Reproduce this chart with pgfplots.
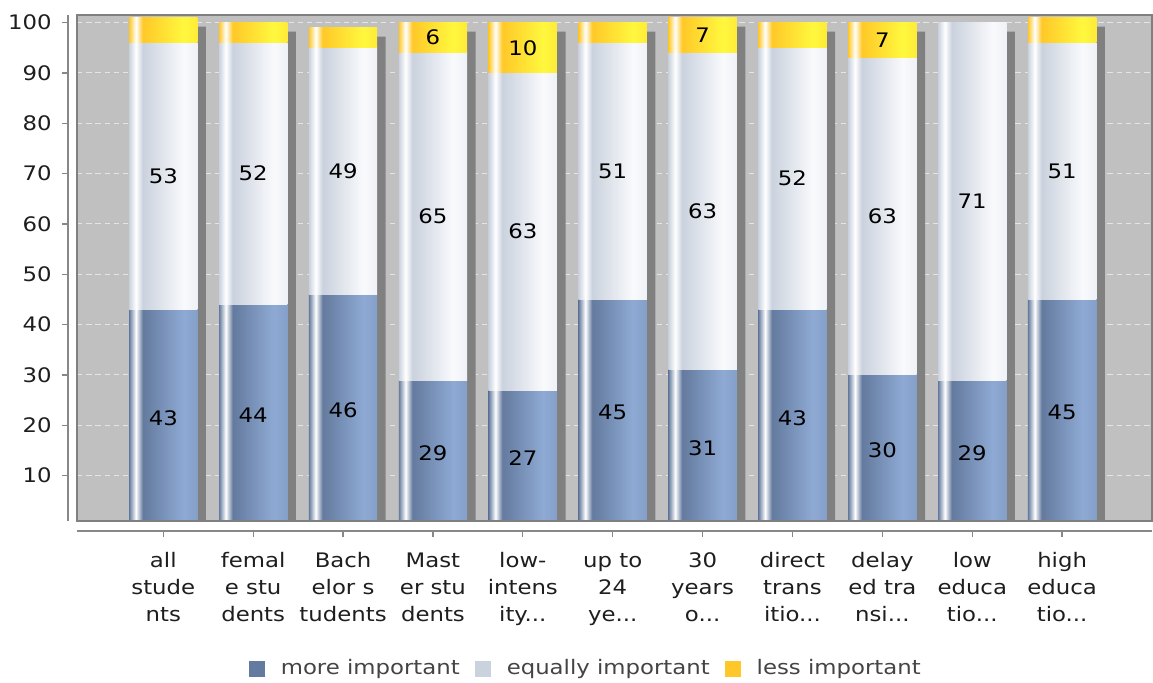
\documentclass[border=0pt]{standalone}
\usepackage{pgfplots}
\pgfplotsset{compat=1.18}
\usepackage{pgfplotstable}
\usepackage{fontspec}
\setmainfont{DejaVu Sans}[FakeStretch=1.14]

\definecolor{bgc}{RGB}{192,192,192}
\definecolor{shadowc}{RGB}{128,128,128}
\definecolor{bordc}{RGB}{128,128,128}
\definecolor{axc}{RGB}{136,136,136}
\definecolor{gridc}{RGB}{228,228,228}
\definecolor{bA}{RGB}{100,122,158}
\definecolor{bB}{RGB}{142,170,212}
\definecolor{bC}{RGB}{132,159,200}
\definecolor{eA}{RGB}{202,210,222}
\definecolor{eB}{RGB}{249,250,252}
\definecolor{eC}{RGB}{238,241,246}
\definecolor{lA}{RGB}{255,200,40}
\definecolor{lB}{RGB}{255,248,62}
\definecolor{lC}{RGB}{255,234,56}
\definecolor{txt}{RGB}{30,30,30}
\definecolor{legtxt}{RGB}{68,68,68}

\pgfdeclarehorizontalshading{moreshade}{100bp}{color(0bp)=(bA); color(25bp)=(bA); color(30bp)=(white); color(35bp)=(bA); color(65bp)=(bB); color(75bp)=(bC); color(100bp)=(bC)}
\pgfdeclarehorizontalshading{equalshade}{100bp}{color(0bp)=(eA); color(25bp)=(eA); color(30bp)=(white); color(35bp)=(eA); color(65bp)=(eB); color(75bp)=(eC); color(100bp)=(eC)}
\pgfdeclarehorizontalshading{lessshade}{100bp}{color(0bp)=(lA); color(25bp)=(lA); color(30bp)=(white); color(35bp)=(lA); color(65bp)=(lB); color(75bp)=(lC); color(100bp)=(lC)}

% one bar segment: from the data point down by \barh pt, shaded across its width
\pgfdeclareplotmark{morebar}{\pgfpathrectanglecorners{\pgfqpoint{-25.62pt}{0pt}}{\pgfpoint{25.62pt}{-\barh pt}}\pgfshadepath{moreshade}{0}\pgfusepath{discard}}
\pgfdeclareplotmark{equalbar}{\pgfpathrectanglecorners{\pgfqpoint{-25.62pt}{0pt}}{\pgfpoint{25.62pt}{-\barh pt}}\pgfshadepath{equalshade}{0}\pgfusepath{discard}}
\pgfdeclareplotmark{lessbar}{\pgfpathrectanglecorners{\pgfqpoint{-25.62pt}{0pt}}{\pgfpoint{25.62pt}{-\barh pt}}\pgfshadepath{lessshade}{0}\pgfusepath{discard}}

\pgfplotstableread{
x more equal less lesslbl
0 43 53 5 {}
1 44 52 4 {}
2 46 49 4 {}
3 29 65 6 6
4 27 63 10 10
5 45 51 4 {}
6 31 63 7 7
7 43 52 5 {}
8 30 63 7 7
9 29 71 0 {}
10 45 51 5 {}
}\data

\newcommand{\lblfont}{\fontsize{15}{20.25}\selectfont}
\protected\def\ddd{...}

\begin{document}
\begin{tikzpicture}
% background, grid and shadows
\begin{axis}[name=bg, at={(0,0)}, anchor=south west, scale only axis,
  width=806.25pt, height=379.5pt,
  xmin=-0.96, xmax=11.0, ymin=1, ymax=101.5,
  axis background/.style={fill=bgc},
  axis line style={draw=none},
  xtick=\empty, ytick={10,20,30,40,50,60,70,80,90,100}, yticklabels={},
  major tick length=0pt, tick style={draw=none},
  ymajorgrids,
  major grid style={gridc, line width=0.75pt, dash pattern=on 4.1pt off 2.8pt},
  ybar, bar width=0.76]
\addplot[fill=shadowc, draw=none, bar shift=6.4pt]
  table[x=x, y expr=\thisrow{more}+\thisrow{equal}+\thisrow{less}-1.8]{\data};
\end{axis}
% bars
\begin{axis}[name=main, at={(0,0)}, anchor=south west, scale only axis,
  width=806.25pt, height=379.5pt,
  xmin=-0.96, xmax=11.0, ymin=1, ymax=101.5,
  axis on top, clip marker paths=true,
  axis line style={draw=bordc, line width=1pt},
  tick pos=left, tick align=inside, major tick length=4.5pt,
  tick style={axc, line width=1pt},
  every x tick/.append style={yshift=-12pt},
  every y tick/.append style={xshift=-11.25pt},
  ytick={10,20,30,40,50,60,70,80,90,100},
  xtick={0,1,2,3,4,5,6,7,8,9,10},
  xticklabels={{\strut all\\stude\\nts},{\strut femal\\e stu\\dents},{\strut Bach\\elor s\\tudents},{\strut Mast\\er stu\\dents},{\strut low-\\intens\\ity\ddd},{\strut up to\\24\\ye\ddd},{\strut 30\\years\\o\ddd},{\strut direct\\trans\\itio\ddd},{\strut delay\\ed tra\\nsi\ddd},{\strut low\\educa\\tio\ddd},{\strut high\\educa\\tio\ddd}},
  /pgf/number format/assume math mode=true,
  tick label style={font=\lblfont, text=txt},
  yticklabel style={anchor=east, inner sep=0pt, xshift=-18.75pt},
  xticklabel style={anchor=north, inner sep=0pt, yshift=-20.5pt, align=center},
  legend columns=3,
  legend style={at={(0.16,0)}, anchor=west, yshift=-110.5pt, draw=none, fill=none,
    inner sep=0pt, font=\lblfont, text=legtxt,
    nodes={inner xsep=0pt, inner ysep=1pt},
    /tikz/every even column/.append style={column sep=11.6pt}},
  legend cell align=left,
  nodes near coords,
  point meta=explicit symbolic,
  ]
\addplot[only marks, mark=morebar,
  visualization depends on={3.77612*\thisrow{more}\as\barh},
  every node near coord/.append style={anchor=center, yshift={-0.5*\barh pt}, font=\lblfont, text=black},
  legend image code/.code={\fill[bA] (0pt,-5.6pt) rectangle (11.25pt,5.6pt); \path (23.25pt,0pt);}]
  table[x=x, y=more, meta=more]{\data};
\addlegendentry{more important}
\addplot[only marks, mark=equalbar,
  visualization depends on={3.77612*\thisrow{equal}\as\barh},
  every node near coord/.append style={anchor=center, yshift={-0.5*\barh pt}, font=\lblfont, text=black},
  legend image code/.code={\fill[eA] (0pt,-5.6pt) rectangle (11.25pt,5.6pt); \path (23.25pt,0pt);}]
  table[x=x, y expr=\thisrow{more}+\thisrow{equal}, meta=equal]{\data};
\addlegendentry{equally important}
\addplot[only marks, mark=lessbar, skip coords between index={9}{10},
  visualization depends on={3.77612*\thisrow{less}\as\barh},
  every node near coord/.append style={anchor=center, yshift={-0.5*\barh pt}, font=\lblfont, text=black},
  legend image code/.code={\fill[lA] (0pt,-5.6pt) rectangle (11.25pt,5.6pt); \path (23.25pt,0pt);}]
  table[x=x, y expr=\thisrow{more}+\thisrow{equal}+\thisrow{less}, meta=lesslbl]{\data};
\addlegendentry{less important}
\end{axis}
\draw[axc, line width=1.1pt] ([xshift=-6.75pt]main.south west) -- ([xshift=-6.75pt]main.north west);
\draw[axc, line width=1.1pt] ([yshift=-7.5pt]main.south west) -- ([yshift=-7.5pt]main.south east);
\pgfresetboundingbox
\path[use as bounding box] (-57.75pt,-120.75pt) rectangle (807pt,390.75pt);
\end{tikzpicture}
\end{document}
